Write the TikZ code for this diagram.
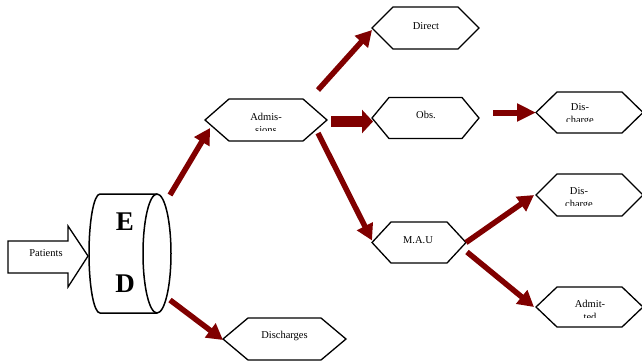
\documentclass[tikz,border=0pt]{standalone}
\usepackage{fontspec}
\setmainfont{Liberation Serif}
\usetikzlibrary{arrows.meta}
\definecolor{flow}{HTML}{800000}
\tikzset{
  anch/.style={draw=none, inner sep=0pt, outer sep=0pt, minimum width=#1},
  hexline/.style={draw=black, line width=1.3pt, line join=miter, fill=white},
  lbl/.style={font=\fontsize{10.5}{13}\selectfont, inner sep=0pt, align=center},
  bigl/.style={font=\fontsize{27}{30}\selectfont\bfseries, inner sep=0pt},
  flowarrow/.style={draw=flow, line width=5.5pt, -{Triangle[length=16pt,width=17pt]}},
  fatarrow/.style={draw=flow, line width=11pt, -{Triangle[length=11pt,width=23pt]}},
  medarrow/.style={draw=flow, line width=6pt, -{Triangle[length=19pt,width=17pt]}},
}
% name, x, y, width, height, inset
\newcommand\hexbox[6]{%
  \node[anch=#4, minimum height=#5] (#1) at (#2,#3) {};
  \draw[hexline] (#1.west) -- ([xshift=#6]#1.north west) -- ([xshift=-#6]#1.north east)
    -- (#1.east) -- ([xshift=-#6]#1.south east) -- ([xshift=#6]#1.south west) -- cycle;
}
\begin{document}
\begin{tikzpicture}[x=1pt,y=-1pt]
\useasboundingbox (0,0) rectangle (642,360);

% Patients block arrow
\draw[line width=1.3pt, fill=white, line join=miter] (8,241) -- (68,241) -- (68,226) -- (88,256)
  -- (68,287) -- (68,273) -- (8,273) -- cycle;
\node[lbl] (pat) at (46,253) {Patients};

% ED cylinder
\node[anch=82pt, minimum height=119pt] (ED) at (130,253.5) {};
\draw[line width=1.5pt, fill=white] (157,194) -- (100,194) arc[start angle=270, end angle=90, x radius=11, y radius=59.5] -- (157,313);
\draw[line width=1.5pt] (157,253.5) ellipse[x radius=14, y radius=59.5];
\node[bigl] (E) at (125,222) {E};
\node[bigl] (D) at (125,284) {D};

% hexagons
\hexbox{adm}{266}{120}{122}{42}{24}
\hexbox{dir}{425.5}{28}{107}{42}{21}
\hexbox{obs}{425.5}{118}{107}{41}{17}
\hexbox{disa}{589.5}{112.5}{107}{41}{21}
\hexbox{disb}{589.5}{195}{107}{42}{21}
\hexbox{mau}{419}{242.5}{94}{41}{19}
\hexbox{admt}{589.5}{307}{107}{40}{21}
\hexbox{disch}{284.5}{339}{123}{42}{25}

% labels
\node[lbl] (tdir) at (426,26) {Direct};
\node[lbl] (tobs) at (426,115) {Obs.};
\node[lbl] (tmau) at (418,240) {M.A.U};
\node[lbl] (tdisch) at (284.5,336) {Discharges};
\begin{scope}
  \clip (220,100) rectangle (310,130);
  \node[lbl] (tadm) at (266,123.5) {Admis-\\sions};
\end{scope}
\begin{scope}
  \clip (545,95) rectangle (620,121);
  \node[lbl] (tdisa) at (580,114.5) {Dis-\\charge};
\end{scope}
\begin{scope}
  \clip (545,178) rectangle (620,205);
  \node[lbl] (tdisb) at (579,198.5) {Dis-\\charge};
\end{scope}
\begin{scope}
  \clip (545,290) rectangle (635,317);
  \node[lbl] (tadmt) at (590,310.5) {Admit-\\ted};
\end{scope}

% arrows
\draw[flowarrow] ([shift={(-1,1)}]ED.north east) -- ([shift={(5,8)}]adm.west);
\draw[flowarrow] ([shift={(-1,-13)}]ED.south east) -- ([shift={(0,1)}]disch.west);
\draw[flowarrow] ([shift={(-9,-30)}]adm.east) -- ([shift={(0,2)}]dir.west);
\draw[fatarrow] ([shift={(4,1.5)}]adm.east) -- ([shift={(1,3.5)}]obs.west);
\draw[flowarrow] ([shift={(-9,13)}]adm.east) -- ([shift={(0,-2)}]mau.west);
\draw[medarrow] ([shift={(14,-5.5)}]obs.east) -- ([shift={(0,0)}]disa.west);
\draw[flowarrow] (mau.east) -- ([shift={(-2,0)}]disb.west);
\draw[flowarrow] ([shift={(1,9.5)}]mau.east) -- ([shift={(-2,0)}]admt.west);
\end{tikzpicture}
\end{document}
